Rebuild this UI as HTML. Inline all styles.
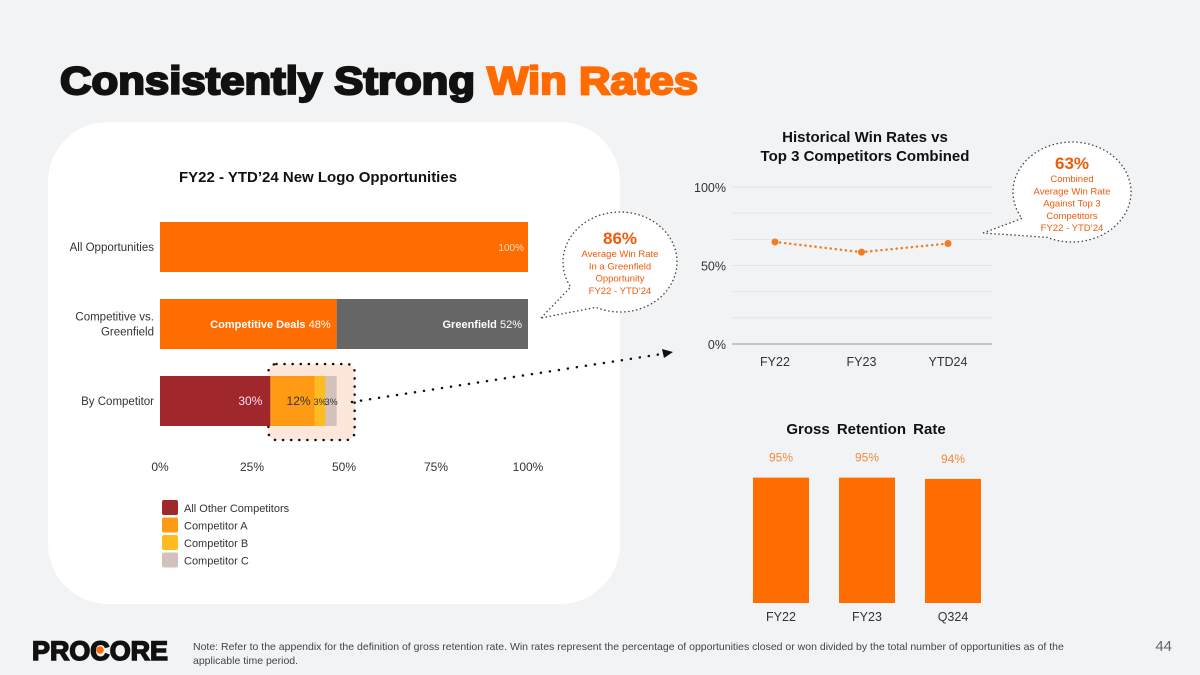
<!DOCTYPE html>
<html><head><meta charset="utf-8"><style>
html,body{margin:0;padding:0;}
body{width:1200px;height:675px;background:#f2f3f5;font-family:"Liberation Sans",Arial,sans-serif;overflow:hidden;position:relative;}
svg{position:absolute;left:0;top:0;}
</style></head><body>
<svg id="s" width="1200" height="675" viewBox="0 0 1200 675" xmlns="http://www.w3.org/2000/svg" font-family="Liberation Sans, Arial, sans-serif">
<text x="60" y="94" font-size="39" font-weight="bold" fill="#111" stroke="#111" stroke-width="2.2" textLength="638" lengthAdjust="spacingAndGlyphs">Consistently Strong <tspan fill="#ff6b00" stroke="#ff6b00">Win Rates</tspan></text>
<rect x="48" y="122" width="572" height="482" rx="60" fill="#fff"/>
<text x="318" y="182" font-size="15" font-weight="bold" text-anchor="middle" fill="#111">FY22 - YTD’24 New Logo Opportunities</text>
<g id="hbars"></g>
<g id="line"></g>
<g id="gbars"></g>
<text x="32" y="660" font-size="27" font-weight="bold" fill="#111" stroke="#111" stroke-width="1.5" textLength="136" lengthAdjust="spacingAndGlyphs">PROCORE</text>
<circle cx="100" cy="650" r="3.8" fill="#ff6b00"/>
<text x="193" y="650" font-size="10.5" fill="#444">Note: Refer to the appendix for the definition of gross retention rate. Win rates represent the percentage of opportunities closed or won divided by the total number of opportunities as of the</text>
<text x="193" y="664" font-size="10.5" fill="#444">applicable time period.</text>
<text x="1172" y="651" font-size="15" fill="#666" text-anchor="end">44</text>
</svg>
<script>
const NS="http://www.w3.org/2000/svg";
// Horizontal bar chart data
const hCategories=["All Opportunities","Competitive vs.|Greenfield","By Competitor"];
const hAll=[100];
const hCompGreen=[48,52];
const hByComp=[30,12,3,3];
const hTicks=[0,25,50,75,100];
const legendLabels=["All Other Competitors","Competitor A","Competitor B","Competitor C"];
// Line chart data
const lineCats=["FY22","FY23","YTD24"];
const lineVals=[65,58.5,64];
const lineTicks=[0,50,100];
// Gross retention data
const gCats=["FY22","FY23","Q324"];
const gVals=[95,95,94];

function mk(tag,attrs,parent,txt){const e=document.createElementNS(NS,tag);for(const k in attrs)e.setAttribute(k,attrs[k]);if(txt!==undefined)e.textContent=txt;parent.appendChild(e);return e;}

// ---- horizontal bars
const hb=document.getElementById('hbars');
const xS=v=>160+v*3.68;
const rowY=[222,299,376],bh=50;
hTicks.forEach(t=>{const e=mk('text',{x:xS(t),y:471,'font-size':12,'text-anchor':'middle',fill:'#333'},hb,t+'%');

});
hCategories.forEach((c,i)=>{const parts=c.split('|');const cy=rowY[i]+bh/2;
parts.forEach((p,j)=>{const e=mk('text',{x:154,y:cy+4+(j-(parts.length-1)/2)*15,'font-size':11.5,'text-anchor':'end',fill:'#333'},hb,p);

});});
{const r=mk('rect',{x:xS(0),y:rowY[0],width:xS(hAll[0])-xS(0),height:bh,fill:'#ff6d00'},hb);


const t=mk('text',{x:xS(hAll[0])-4,y:rowY[0]+29,'font-size':10,'text-anchor':'end',fill:'#ffd9bf'},hb,hAll[0]+'%');

}
let acc=0;
const hx0=xS(hByComp[0]), hx1=xS(hByComp.reduce((a,b)=>a+b,0));
{const b=mk('rect',{x:hx0-2,y:364,width:hx1-hx0+20,height:76,rx:8,fill:'#fde7da',stroke:'#111','stroke-width':2.5,'stroke-dasharray':'0.1 8','stroke-linecap':'round'},hb);

}
const cgColors=['#ff6d00','#666666'],cgNames=['Competitive Deals','Greenfield'];
acc=0;hCompGreen.forEach((v,i)=>{const x0=xS(acc),x1=xS(acc+v);acc+=v;
const r=mk('rect',{x:x0,y:rowY[1],width:x1-x0,height:bh,fill:cgColors[i]},hb);


const t=mk('text',{x:x1-6,y:rowY[1]+29,'font-size':11,'text-anchor':'end',fill:'#fff'},hb);


mk('tspan',{'font-weight':'bold'},t,cgNames[i]+'  ');mk('tspan',{'font-weight':'normal'},t,v+'%');});
const bcColors=['#a0282d','#ff9a14','#ffbb22','#d2c2bb'];
acc=0;hByComp.forEach((v,i)=>{const x0=xS(acc),x1=xS(acc+v);acc+=v;
const r=mk('rect',{x:x0,y:rowY[2],width:x1-x0,height:bh,fill:bcColors[i]},hb);


const fs=v<5?9:12;
const t=mk('text',{x:v<5?(x0+x1)/2:x1-(i==0?8:4),y:rowY[2]+29,'font-size':fs,'text-anchor':v<5?'middle':'end',fill:i==0?'#fde':'#333'},hb,v+'%');

});
legendLabels.forEach((l,i)=>{const y=500+i*17.5;
const r=mk('rect',{x:162,y:y,width:16,height:15,rx:2,fill:bcColors[i]},hb);


const t=mk('text',{x:184,y:y+12,'font-size':11,fill:'#333'},hb,l);

});
{const p=mk('line',{x1:352,y1:402,x2:662,y2:354,stroke:'#111','stroke-width':2.5,'stroke-dasharray':'0.1 9','stroke-linecap':'round'},hb);


const h=mk('polygon',{points:'673,352 662,349 664,358',fill:'#111'},hb);

}

// ---- line chart
const lg=document.getElementById('line');
const yL=v=>344-v*1.57;
const xL=i=>775+i*86.5;
{const t1=mk('text',{x:865,y:142,'font-size':15,'font-weight':'bold','text-anchor':'middle',fill:'#111'},lg,'Historical Win Rates vs');


const t2=mk('text',{x:865,y:161,'font-size':15,'font-weight':'bold','text-anchor':'middle',fill:'#111'},lg,'Top 3 Competitors Combined');

}
for(let k=0;k<=6;k++){const v=k*100/6;const l=mk('line',{x1:732,x2:992,y1:yL(v),y2:yL(v),stroke:k==0?'#999':'#e2e3e6','stroke-width':1},lg);

}
lineTicks.forEach(t=>{const e=mk('text',{x:726,y:yL(t)+5,'font-size':12.5,'text-anchor':'end',fill:'#333'},lg,t+'%');

});
lineCats.forEach((c,i)=>{const e=mk('text',{x:xL(i),y:366,'font-size':12.5,'text-anchor':'middle',fill:'#333'},lg,c);

});
{let d='';lineVals.forEach((v,i)=>{d+=(i?' L':'M')+xL(i)+' '+yL(v);});
const p=mk('path',{d:d,fill:'none',stroke:'#f47b20','stroke-width':2.5,'stroke-dasharray':'0.1 5','stroke-linecap':'round'},lg);

}
lineVals.forEach((v,i)=>{const c=mk('circle',{cx:xL(i),cy:yL(v),r:3.5,fill:'#f47b20'},lg);

});
// callouts
function bubble(cx,cy,rx,ry,tip,a1,a2,lines,big,bigY,lineY0,name){
const g=mk('g',{},lg);
const pt=a=>[cx+rx*Math.cos(a*Math.PI/180),cy+ry*Math.sin(a*Math.PI/180)];
const p2=pt(a2),p1=pt(a1); // a2 > a1 (both lower-left); arc from p2 increasing to p1
mk('path',{d:`M${tip[0]} ${tip[1]} L${p2[0]} ${p2[1]} A${rx} ${ry} 0 1 1 ${p1[0]} ${p1[1]} Z`,fill:'#fff',stroke:'#444','stroke-width':1.3,'stroke-dasharray':'1.5 2.5'},g);
mk('text',{x:cx,y:bigY,'font-size':17,'font-weight':'bold','text-anchor':'middle',fill:'#f05a0a'},g,big);
lines.forEach((l,j)=>mk('text',{x:cx,y:lineY0+j*12.3,'font-size':9.5,'text-anchor':'middle',fill:'#f05a0a'},g,l));}
bubble(620,262,57,50,[541,318],115,150,["Average Win Rate","In a Greenfield","Opportunity","FY22 - YTD’24"],"86%",244,257,"greenfield-callout");
bubble(1072,192,59,50,[983,233],115,148,["Combined","Average Win Rate","Against Top 3","Competitors","FY22 - YTD’24"],"63%",169,182,"competitor-callout");

// ---- gross retention
const gg=document.getElementById('gbars');
const yG=v=>603-v*1.32;
const xG=i=>753+i*86;
{const t=mk('text',{x:866,y:434,'font-size':15,'font-weight':'bold','text-anchor':'middle',fill:'#111','word-spacing':'3'},gg,'Gross Retention Rate');

}
gVals.forEach((v,i)=>{const r=mk('rect',{x:xG(i),y:yG(v),width:56,height:603-yG(v),fill:'#ff6d00'},gg);


const t=mk('text',{x:xG(i)+28,y:yG(v)-16,'font-size':12,'text-anchor':'middle',fill:'#f5893b'},gg,v+'%');


const c=mk('text',{x:xG(i)+28,y:621,'font-size':12.5,'text-anchor':'middle',fill:'#333'},gg,gCats[i]);

});
</script>
</body></html>
